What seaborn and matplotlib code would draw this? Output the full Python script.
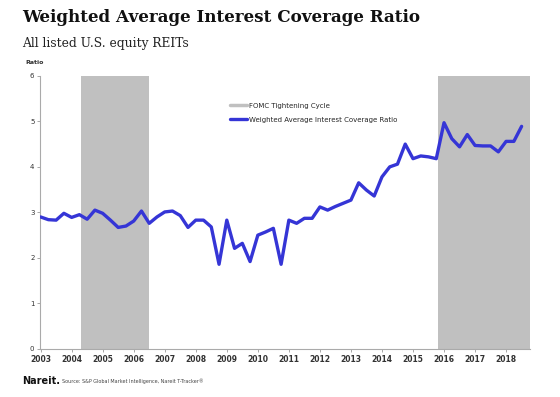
import matplotlib
matplotlib.use("Agg")
import matplotlib.pyplot as plt
import seaborn as sns
import pandas as pd
from matplotlib.lines import Line2D

# quarterly ratio, 2003 Q1 .. 2018 Q3
ratio = [2.90, 2.84, 2.83, 2.98, 2.89, 2.95, 2.85, 3.05, 2.98, 2.83,
         2.67, 2.70, 2.81, 3.03, 2.76, 2.90, 3.01, 3.03, 2.93, 2.67,
         2.83, 2.83, 2.68, 1.86, 2.83, 2.21, 2.32, 1.92, 2.50, 2.57,
         2.65, 1.86, 2.83, 2.76, 2.87, 2.87, 3.12, 3.05, 3.13, 3.20,
         3.27, 3.65, 3.49, 3.36, 3.78, 4.00, 4.06, 4.50, 4.18, 4.24,
         4.22, 4.18, 4.97, 4.62, 4.44, 4.71, 4.47, 4.46, 4.46, 4.33,
         4.56, 4.56, 4.89]
start_year = 2003
year_ticks = list(range(2003, 2019))
tightening = [(2004.3, 2006.5), (2015.8, 2018.77)]

df = pd.DataFrame({"t": [start_year + i / 4 for i in range(len(ratio))],
                   "ratio": ratio})

sns.set_style("white")
plt.rcParams['font.family'] = ['DejaVu Sans']

fig = plt.figure(figsize=(5.6, 3.97), dpi=100)
ax = fig.add_axes([0.0714, 0.121, 0.875, 0.688])

for a, b in tightening:
    ax.axvspan(a, b, color="#c0c0c0", lw=0, zorder=0)

sns.lineplot(data=df, x="t", y="ratio", ax=ax, color="#3535d6", lw=2.4, zorder=3)

ax.set_xlim(2002.98, 2018.77)
ax.set_ylim(0, 6)
ax.set_xticks(year_ticks)
ax.set_xticklabels([str(y) for y in year_ticks], fontsize=5.5, fontweight="bold", color="#333333")
ax.set_yticks(range(7))
ax.set_yticklabels([str(v) for v in range(7)], fontsize=5, color="#333333")
ax.tick_params(axis="both", length=2, width=0.6, color="#999999", direction="out", pad=2, bottom=True, left=True)
ax.set_xlabel("")
ax.set_ylabel("")
for s in ["top", "right"]:
    ax.spines[s].set_visible(False)
for s in ["left", "bottom"]:
    ax.spines[s].set_color("#aaaaaa")
    ax.spines[s].set_linewidth(0.8)

handles = [Line2D([0], [0], color="#c0c0c0", lw=2.5),
           Line2D([0], [0], color="#3535d6", lw=2.4)]
ax.legend(handles, ["FOMC Tightening Cycle", "Weighted Average Interest Coverage Ratio"],
          loc="upper left", bbox_to_anchor=(0.375, 0.925), frameon=False, fontsize=5,
          handlelength=2.5, labelspacing=1.2, handletextpad=0.2)

fig.text(0.045, 0.84, "Ratio", fontsize=4.5, fontweight="bold", color="#333333")
fig.text(0.04, 0.955, "Weighted Average Interest Coverage Ratio", family="DejaVu Serif",
         fontsize=12.1, fontweight="bold", va="center", color="#111111")
fig.text(0.04, 0.89, "All listed U.S. equity REITs", family="DejaVu Serif",
         fontsize=8.8, va="center", color="#222222")
fig.text(0.04, 0.04, "Nareit.", fontsize=7, fontweight="bold", va="center", color="#111111")
fig.text(0.11, 0.04, "Source: S&P Global Market Intelligence, Nareit T-Tracker\u00ae", fontsize=3.5,
         va="center", color="#444444")

fig.savefig("out.png", dpi=100)
